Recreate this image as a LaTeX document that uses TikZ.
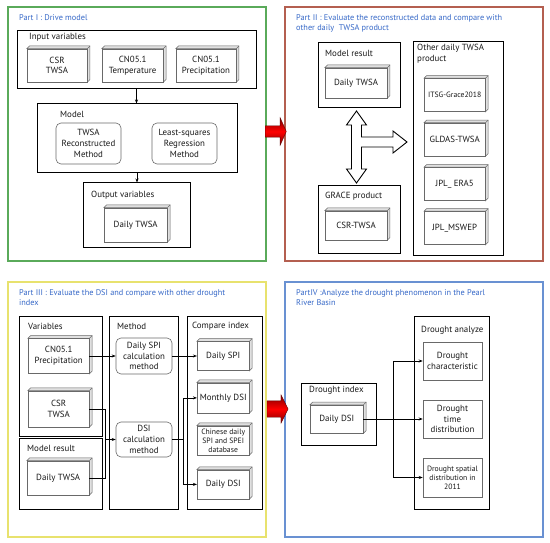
\documentclass[tikz,border=0pt]{standalone}
\usepackage{fontspec}
\setmainfont{PT Sans}
\usetikzlibrary{arrows.meta,shapes.arrows}
\definecolor{titleblue}{RGB}{55,105,200}
\definecolor{partgreen}{RGB}{90,170,90}
\definecolor{partred}{RGB}{180,95,80}
\definecolor{partyellow}{RGB}{232,226,110}
\definecolor{partblue}{RGB}{105,145,210}
\definecolor{boxgray}{RGB}{105,105,105}
\begin{document}
\begin{tikzpicture}[x=1pt,y=-1pt,
  every node/.style={font=\fontsize{8.9}{10.8}\selectfont, text=black!90, inner sep=1pt},
  partframe/.style={draw=#1, line width=1.1pt},
  groupbox/.style={draw=black, line width=1pt, fill=white},
  grouplabel/.style={anchor=west},
  parttitle/.style={anchor=north west, align=left, text=titleblue, font=\fontsize{8.3}{10}\selectfont},
  slab/.style={draw=boxgray, line width=0.5pt, fill=white, align=center,
    append after command={\pgfextra{
      \filldraw[fill=black!12, draw=boxgray, line width=0.5pt]
        (\tikzlastnode.north west) -- ++(2.7,-2.7)
        -- ([shift={(2.7,-2.7)}]\tikzlastnode.north east)
        -- ([shift={(2.7,-2.7)}]\tikzlastnode.south east)
        -- (\tikzlastnode.south east) -- (\tikzlastnode.north east) -- cycle;
      \draw[boxgray, line width=0.5pt] (\tikzlastnode.north east) -- ++(2.7,-2.7);}}},
  methodbox/.style={draw=boxgray, line width=0.6pt, rounded corners=5pt, align=center},
  flatbox/.style={draw=boxgray, line width=0.5pt, align=center},
  smalltext/.style={font=\fontsize{7.7}{9}\selectfont},
  link/.style={-{Stealth[length=4pt,width=3pt]}, line width=0.6pt},
  bigarrow/.style={single arrow, draw=red!40!black, line width=0.4pt,
    top color=red!50!black, bottom color=red!50!black, middle color=red,
    inner xsep=0pt, minimum height=21pt, single arrow head indent=0pt}
]
\path[use as bounding box, fill=white] (0,0) rectangle (550,543);

\draw[partframe=partgreen] (8,7) rectangle (266,261);
\draw[partframe=partred] (285,7) rectangle (543,261);
\draw[partframe=partyellow] (8,282) rectangle (266,537);
\draw[partframe=partblue] (285,282) rectangle (543,537);

\node[parttitle] (t1) at (18,13.5) {Part I : Drive model};
\node[parttitle] (t2) at (295,13.5) {Part II : Evaluate the reconstructed data and compare with\\other daily \ TWSA product};
\node[parttitle] (t3) at (18,288.5) {Part III : Evaluate the DSI and compare with other drought\\index};
\node[parttitle] (t4) at (295,288.5) {PartIV :Analyze the drought phenomenon in the Pearl\\River Basin};

\node[groupbox, minimum width=239, minimum height=58] (inputs) at (136.5,60) {};
\node[groupbox, minimum width=200, minimum height=69] (model) at (137,138.5) {};
\node[groupbox, minimum width=107, minimum height=64] (outputs) at (136.5,215) {};
\node[grouplabel] at (28,37.5) {Input variables};
\node[grouplabel] at (59,114) {Model};
\node[grouplabel] at (90,195) {Output variables};
\node[slab, minimum width=60, minimum height=33] (csr) at (57,65.4) {CSR\\TWSA};
\node[slab, minimum width=61, minimum height=33] (temp) at (132.6,65.4) {CN05.1\\Temperature};
\node[slab, minimum width=60, minimum height=33] (prec) at (206,65.4) {CN05.1\\Precipitation};
\node[methodbox, minimum width=65, minimum height=41] (recon) at (88.5,143.5) {TWSA\\Reconstructed\\Method};
\node[methodbox, minimum width=65, minimum height=41] (lsq) at (184.5,143.5) {Least-squares\\Regression\\Method};
\node[slab, minimum width=63, minimum height=34] (dtwsa) at (135.7,224.8) {Daily TWSA};
\draw[link] (inputs.south) -- (inputs.south |- model.north);
\draw[link] (model.south) -- (model.south |- outputs.north);

\node[groupbox, minimum width=82, minimum height=65] (mres) at (359,75.5) {};
\node[groupbox, minimum width=82, minimum height=67] (grace) at (359,219.5) {};
\node[groupbox, minimum width=90, minimum height=213] (other) at (458,148.5) {};
\node[grouplabel] at (324,53) {Model result};
\node[grouplabel] at (324,196) {GRACE product};
\node[anchor=north west, align=left] at (416,43) {Other daily TWSA\\product};
\node[slab, minimum width=62, minimum height=30] (mtwsa) at (356,82.9) {Daily TWSA};
\node[slab, minimum width=62, minimum height=29] (gtwsa) at (356,225.4) {CSR-TWSA};
\node[slab, smalltext, minimum width=61, minimum height=33] (itsg) at (454.7,95) {ITSG-Grace2018};
\node[slab, minimum width=61, minimum height=33] (gldas) at (454.7,139.5) {GLDAS-TWSA};
\node[slab, minimum width=61, minimum height=33] (era) at (454.7,184) {JPL\_ ERA5};
\node[slab, minimum width=61, minimum height=33] (mswep) at (454.7,228) {JPL\_MSWEP};
\draw[line width=0.9pt, fill=white] (356.5,111) -- (366.5,125) -- (361.5,125) -- (361.5,137)
  -- (393,137) -- (393,131) -- (407,142) -- (393,153) -- (393,147) -- (361.5,147)
  -- (361.5,169) -- (366.5,169) -- (356.5,183) -- (346.5,169) -- (351.5,169)
  -- (351.5,125) -- (346.5,125) -- cycle;

\node[groupbox, minimum width=83, minimum height=120] (vars) at (60.5,376) {};
\node[groupbox, minimum width=83, minimum height=71] (mres3) at (60.5,473.5) {};
\node[groupbox, minimum width=69, minimum height=193] (meth) at (143.5,412.5) {};
\node[groupbox, minimum width=75, minimum height=193] (cmp) at (224.5,412.5) {};
\node[grouplabel] at (27,326) {Variables};
\node[grouplabel] at (26,448) {Model result};
\node[grouplabel] at (116,326) {Method};
\node[grouplabel] at (191,326) {Compare index};
\node[slab, minimum width=61, minimum height=35] (prec3) at (58.7,356) {CN05.1\\Precipitation};
\node[slab, minimum width=61, minimum height=36] (csr3) at (58.7,408.9) {CSR\\TWSA};
\node[slab, minimum width=62, minimum height=34] (twsa3) at (58.2,477.9) {Daily TWSA};
\node[methodbox, minimum width=56, minimum height=36] (spim) at (144,356) {Daily SPI\\calculation\\method};
\node[methodbox, minimum width=56, minimum height=35] (dsim) at (144,439.5) {DSI\\calculation\\method};
\node[slab, minimum width=52, minimum height=29] (dspi) at (223.2,356) {Daily SPI};
\node[slab, minimum width=52, minimum height=30] (mdsi) at (223.2,397.9) {Monthly DSI};
\node[slab, smalltext, minimum width=52, minimum height=29] (cspi) at (223.2,440.4) {Chinese daily\\SPI and SPEI\\database};
\node[slab, minimum width=52, minimum height=29] (ddsi) at (223.2,484.4) {Daily DSI};
\coordinate (merge3) at (105,439.5);
\coordinate (split3) at (183,439.5);
\draw[link] (prec3.east) -- (spim.west);
\draw[link] (spim.east) -- (dspi.west);
\draw[line width=0.6pt] (csr3.east) -| (merge3);
\draw[line width=0.6pt] (twsa3.east) -| (merge3);
\draw[link] (merge3) -- (dsim.west);
\draw[line width=0.6pt] (dsim.east) -- (split3);
\draw[link] (split3) |- (mdsi.west);
\draw[link] (split3) |- (ddsi.west);

\node[groupbox, minimum width=75, minimum height=62] (dindex) at (338.5,414) {};
\node[groupbox, minimum width=75, minimum height=193] (dana) at (451.5,412.5) {};
\node[grouplabel] at (308,390) {Drought index};
\node[grouplabel] at (420,330) {Drought analyze};
\node[slab, minimum width=53, minimum height=28] (ddsi4) at (336.7,419) {Daily DSI};
\node[flatbox, minimum width=59, minimum height=38] (dchar) at (452.5,361) {Drought\\characteristic};
\node[flatbox, minimum width=59, minimum height=38] (dtime) at (452.5,419) {Drought\\time\\distribution};
\node[flatbox, smalltext, minimum width=59, minimum height=39] (dspat) at (452.5,477.5) {Drought spatial\\distribution in\\2011};
\coordinate (split4) at (393,419);
\draw[link] (ddsi4.east) -- (dtime.west);
\draw[link] (split4) |- (dchar.west);
\draw[link] (split4) |- (dspat.west);

\node[bigarrow, inner ysep=5.5pt, single arrow head extend=8pt, single arrow tip angle=132] (arrow12) at (274.5,131.5) {};
\node[bigarrow, inner ysep=8pt, single arrow head extend=6pt, single arrow tip angle=127] (arrow34) at (275.5,409) {};
\end{tikzpicture}
\end{document}
